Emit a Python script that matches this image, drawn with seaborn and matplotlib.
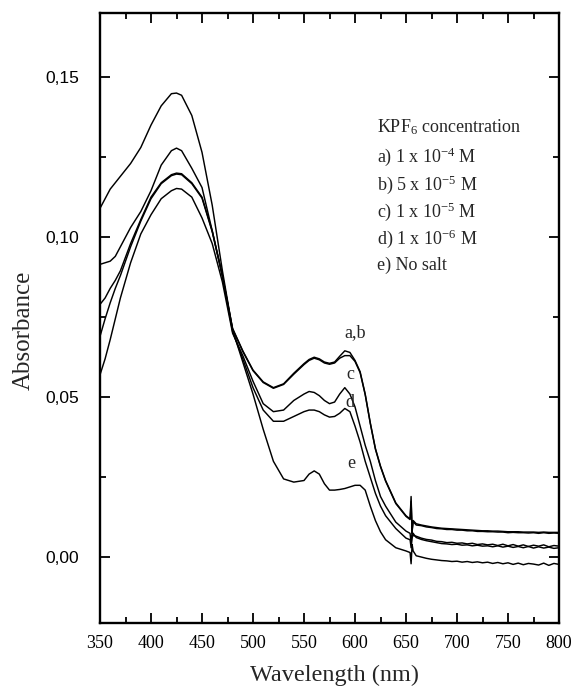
import numpy as np
import pandas as pd
import matplotlib
matplotlib.use("Agg")
import matplotlib.pyplot as plt
import seaborn as sns
from matplotlib.ticker import MultipleLocator, FixedLocator, FixedFormatter

# ---------------- data ----------------
wl_main = [350, 355, 360, 365, 370, 380, 390, 400, 410, 420,
           425, 430, 440, 450, 460, 470, 480, 490, 500, 510,
           520, 530, 540, 550, 555, 560, 565, 570, 575, 580,
           585, 590, 595, 600, 605, 610, 615, 620, 625, 630,
           640, 650, 654, 655, 656, 657]
wl_tail = [660, 665, 670, 675, 680, 685, 690, 695, 700, 705,
           710, 715, 720, 725, 730, 735, 740, 745, 750, 755,
           760, 765, 770, 775, 780, 785, 790, 795, 800]

a_main = [0.079, 0.081, 0.084, 0.0865, 0.0895, 0.098, 0.1055, 0.1125, 0.117, 0.1195,
          0.120, 0.1198, 0.117, 0.1125, 0.102, 0.088, 0.0715, 0.0645, 0.0585, 0.0548,
          0.053, 0.0542, 0.0575, 0.0605, 0.0618, 0.0625, 0.062, 0.061, 0.0606, 0.061,
          0.0628, 0.0645, 0.064, 0.0615, 0.058, 0.051, 0.042, 0.034, 0.0285, 0.024,
          0.017, 0.013, 0.012, 0.019, 0.008, 0.0115]
a_tail = [0.0105, 0.0101, 0.0098, 0.0095, 0.0093, 0.0091, 0.009, 0.0089, 0.0088, 0.0087,
          0.0086, 0.0085, 0.0084, 0.0083, 0.0083, 0.0082, 0.0082, 0.0081, 0.008, 0.008,
          0.008, 0.0079, 0.0079, 0.0079, 0.0078, 0.0079, 0.0078, 0.0078, 0.0078]

b_main = [0.069, 0.0745, 0.0795, 0.084, 0.088, 0.097, 0.105, 0.112, 0.1167, 0.1192,
          0.1197, 0.1195, 0.1167, 0.1122, 0.1017, 0.0878, 0.0713, 0.0643, 0.0583, 0.0546,
          0.0528, 0.054, 0.0572, 0.0602, 0.0615, 0.0622, 0.0617, 0.0607, 0.0603, 0.0607,
          0.0622, 0.063, 0.063, 0.0612, 0.0577, 0.0508, 0.0418, 0.0338, 0.0283, 0.0238,
          0.0168, 0.0128, 0.0118, 0.0175, 0.0085, 0.0112]
b_tail = [0.0101, 0.0099, 0.0095, 0.0093, 0.009, 0.0089, 0.0087, 0.0087, 0.0085, 0.0085,
          0.0083, 0.0083, 0.0081, 0.0081, 0.008, 0.008, 0.0079, 0.0079, 0.0077, 0.0078,
          0.0077, 0.0077, 0.0076, 0.0077, 0.0075, 0.0077, 0.0075, 0.0076, 0.0075]

c_main = [0.057, 0.062, 0.068, 0.0745, 0.081, 0.092, 0.101, 0.107, 0.112, 0.1145,
          0.1152, 0.115, 0.1125, 0.106, 0.098, 0.086, 0.070, 0.063, 0.055, 0.048,
          0.0455, 0.046, 0.049, 0.051, 0.0518, 0.0515, 0.0505, 0.049, 0.048, 0.0485,
          0.051, 0.053, 0.051, 0.047, 0.041, 0.035, 0.030, 0.024, 0.019, 0.016,
          0.011, 0.0082, 0.0075, 0.0045, 0.008, 0.0068]
c_tail = [0.0066, 0.006, 0.0056, 0.0054, 0.005, 0.0049, 0.0046, 0.0047, 0.0044, 0.0045,
          0.0042, 0.0044, 0.004, 0.0042, 0.0039, 0.0041, 0.0037, 0.0041, 0.0036, 0.004,
          0.0035, 0.0039, 0.0034, 0.0038, 0.0035, 0.0039, 0.0033, 0.0037, 0.0035]

d_main = [0.0915, 0.092, 0.0925, 0.094, 0.097, 0.103, 0.108, 0.1145, 0.1225, 0.127,
          0.1278, 0.127, 0.1215, 0.1155, 0.102, 0.088, 0.0705, 0.062, 0.053, 0.046,
          0.0425, 0.0425, 0.044, 0.0455, 0.046, 0.046, 0.0455, 0.0445, 0.0438, 0.044,
          0.045, 0.0465, 0.0455, 0.041, 0.036, 0.030, 0.025, 0.020, 0.016, 0.013,
          0.009, 0.006, 0.0055, 0.003, 0.006, 0.0075]
d_tail = [0.0062, 0.0056, 0.0052, 0.0049, 0.0046, 0.0043, 0.0042, 0.004, 0.0041, 0.0038,
          0.0039, 0.0036, 0.0038, 0.0035, 0.0036, 0.0033, 0.0036, 0.0032, 0.0035, 0.0031,
          0.0034, 0.003, 0.0034, 0.0029, 0.0033, 0.0029, 0.0032, 0.0028, 0.003]

e_main = [0.109, 0.112, 0.115, 0.117, 0.119, 0.123, 0.128, 0.135, 0.141, 0.1448,
          0.145, 0.1443, 0.138, 0.1265, 0.110, 0.0895, 0.071, 0.061, 0.051, 0.040,
          0.030, 0.0245, 0.0235, 0.024, 0.026, 0.027, 0.026, 0.023, 0.021, 0.021,
          0.0212, 0.0215, 0.022, 0.0225, 0.0225, 0.021, 0.016, 0.0115, 0.008, 0.0055,
          0.003, 0.002, 0.0015, -0.002, 0.004, 0.002]
e_tail = [0.0005, 0.0001, -0.0003, -0.0006, -0.0008, -0.0010, -0.0011, -0.0013, -0.0012, -0.0015,
          -0.0013, -0.0016, -0.0014, -0.0017, -0.0015, -0.0019, -0.0016, -0.0020, -0.0017, -0.0022,
          -0.0018, -0.0023, -0.0019, -0.0021, -0.0024, -0.0018, -0.0025, -0.0019, -0.0022]

curve_names = ["a", "b", "c", "d", "e"]
legend_title = "KPF$_6$ concentration"
legend_lines = ["a) 1 x 10$^{-4}$ M", "b) 5 x 10$^{-5}$ M", "c) 1 x 10$^{-5}$ M",
                "d) 1 x 10$^{-6}$ M", "e) No salt"]
curve_labels = ["a,b", "c", "d", "e"]
y_ticks = [0.00, 0.05, 0.10, 0.15]
y_tick_labels = ["0,00", "0,05", "0,10", "0,15"]
x_ticks = [350, 400, 450, 500, 550, 600, 650, 700, 750, 800]

# ---------------- build table ----------------
series = {"a": a_main + a_tail, "b": b_main + b_tail, "c": c_main + c_tail,
          "d": d_main + d_tail, "e": e_main + e_tail}
wl = wl_main + wl_tail
frames = []
for name in curve_names:
    vals = series[name]
    n = min(len(wl), len(vals))
    frames.append(pd.DataFrame({"wl": wl[:n], "A": vals[:n], "curve": name}))
df = pd.concat(frames, ignore_index=True)

# ---------------- style ----------------
sns.set_style("ticks")
plt.rcParams["font.family"] = ["Liberation Serif", "DejaVu Serif"]
plt.rcParams["mathtext.fontset"] = "custom"
plt.rcParams["mathtext.rm"] = "Liberation Serif"
plt.rcParams["mathtext.it"] = "Liberation Serif:italic"
plt.rcParams["mathtext.default"] = "regular"

fig = plt.figure(figsize=(5.75, 6.94), dpi=100)
ax = fig.add_axes([100 / 575, 71 / 694, 459 / 575, 610 / 694])

sns.lineplot(data=df, x="wl", y="A", hue="curve", units="curve", estimator=None,
             sort=False, palette=["black"] * 5, legend=False, linewidth=1.05, ax=ax)

ax.set_xlim(350, 800)
ax.set_ylim(-0.0205, 0.17)

ax.xaxis.set_major_locator(FixedLocator(x_ticks))
ax.xaxis.set_minor_locator(MultipleLocator(25))
ax.yaxis.set_major_locator(FixedLocator(y_ticks))
ax.yaxis.set_major_formatter(FixedFormatter(y_tick_labels))
ax.yaxis.set_minor_locator(MultipleLocator(0.025))

ax.tick_params(which="both", direction="in", top=True, right=True, width=1.3, colors="black")
ax.tick_params(which="major", length=7)
ax.tick_params(which="minor", length=4)
ax.tick_params(axis="x", which="major", pad=9, labelsize=13)
ax.tick_params(axis="y", which="major", pad=15, labelsize=12.5)
for lab in ax.get_yticklabels():
    lab.set_fontfamily("Liberation Sans")
for sp in ax.spines.values():
    sp.set_linewidth(1.7)
    sp.set_color("black")

ax.set_xlabel("Wavelength (nm)", fontsize=17.5)
ax.set_ylabel("Absorbance", fontsize=18)
ax.xaxis.set_label_coords(0.51, -0.069)
ax.yaxis.set_label_coords(-0.142, 0.48)

# legend block as text
ax.text(622, 0.1344, legend_title, fontsize=13, va="center", ha="left")
leg_y = [0.1250, 0.1165, 0.1080, 0.0995, 0.0911]
for txt, yy in zip(legend_lines, leg_y):
    ax.text(622, yy, txt, fontsize=13, va="center", ha="left")

# curve annotations
lab_pos = [(600, 0.0703), (595, 0.0570), (595, 0.0483), (596, 0.0294)]
for txt, (xx, yy) in zip(curve_labels, lab_pos):
    ax.text(xx, yy, txt, fontsize=13, va="center", ha="center")

fig.savefig("out.png", dpi=100)
